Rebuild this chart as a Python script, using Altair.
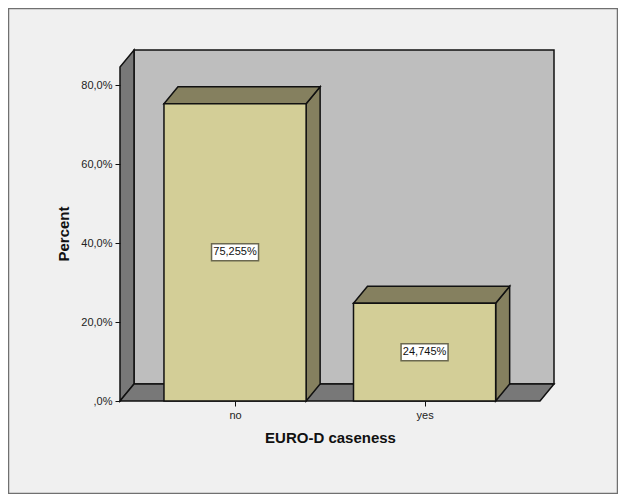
import altair as alt
import pandas as pd

categories = ["no", "yes"]
positions = [0, 1]
percents = [75.255, 24.745]
labels = ["75,255%", "24,745%"]
y_ticks = [0, 20, 40, 60, 80]

BAR_HALF = 0.375
DX = 0.0739
DY = 4.3
X_MIN, X_MAX = -0.607, 1.609
WALL_TOP = 84.56

FONT = "Liberation Sans"
FRONT, SHADE = "#D3CE97", "#85805F"
WALL, SIDE = "#BEBEBE", "#787878"
BG = "#F0F0F0"

bars = pd.DataFrame({"cat": categories, "pos": positions, "pct": percents, "label": labels})
bars["x0"] = bars.pos - BAR_HALF
bars["x1"] = bars.pos + BAR_HALF
bars["mid"] = bars.pct / 2
bars["zero"] = 0

side_rows, top_rows = [], []
for c, p, v in zip(categories, positions, percents):
    a, b = p - BAR_HALF, p + BAR_HALF
    side_rows += [{"cat": c, "x": b, "y": 0, "y2": v},
                  {"cat": c, "x": b + DX, "y": DY, "y2": v + DY}]
    top_rows += [{"cat": c, "x": a, "y": v, "y2": v},
                 {"cat": c, "x": a + DX, "y": v, "y2": v + DY},
                 {"cat": c, "x": b, "y": v, "y2": v + DY},
                 {"cat": c, "x": b + DX, "y": v + DY, "y2": v + DY}]
sides = pd.DataFrame(side_rows)
tops = pd.DataFrame(top_rows)

floor = pd.DataFrame([
    {"x": X_MIN, "y": 0, "y2": 0},
    {"x": X_MIN + DX, "y": 0, "y2": DY},
    {"x": X_MAX, "y": 0, "y2": DY},
    {"x": X_MAX + DX, "y": DY, "y2": DY},
])
left_wall = pd.DataFrame([
    {"x": X_MIN, "y": 0, "y2": WALL_TOP},
    {"x": X_MIN + DX, "y": DY, "y2": WALL_TOP + DY},
])
back_wall = pd.DataFrame([{"x": X_MIN + DX, "x2": X_MAX + DX, "y": DY, "y2": WALL_TOP + DY}])

x_scale = alt.Scale(domain=[X_MIN, X_MAX], nice=False, zero=False)
y_scale = alt.Scale(domain=[0, 80], nice=False)
X = lambda f: alt.X(f, type="quantitative", scale=x_scale)
Y = lambda f: alt.Y(f, type="quantitative", scale=y_scale)

W, H = 420, 316
PAD = dict(left=112, top=77, right=610 - 112 - W, bottom=486 - 77 - H)

frame = alt.Chart(pd.DataFrame({"a": [0]})).mark_rect(
    fill=BG, stroke="#707070", strokeWidth=1.5
).encode(
    x=alt.value(-PAD["left"] + 0.5), x2=alt.value(W + PAD["right"] - 0.5),
    y=alt.value(-PAD["top"] + 0.5), y2=alt.value(H + PAD["bottom"] - 0.5),
)

axes = alt.Chart(bars).mark_rule(opacity=0).encode(
    x=alt.X("pos:Q", scale=x_scale, axis=alt.Axis(
        values=positions, labelExpr="datum.value == 0 ? 'no' : 'yes'", zindex=1,
        title="EURO-D caseness", titleFont=FONT, titleFontSize=15, titleFontWeight="bold",
        titleColor="#111", titlePadding=10, labelFont=FONT, labelFontSize=11, labelColor="#222",
        labelPadding=3, tickSize=5, tickColor="#111", domain=False, grid=False)),
    y=alt.Y("zero:Q", scale=y_scale, axis=alt.Axis(
        values=y_ticks, labelExpr="datum.value == 0 ? ',0%' : datum.value + ',0%'", zindex=1,
        title="Percent", titleFont=FONT, titleFontSize=15, titleFontWeight="bold",
        titleColor="#111", titlePadding=9, titleY=148.5, labelFont=FONT, labelFontSize=11, labelColor="#222",
        labelPadding=3, tickSize=5, tickColor="#111", domain=False, grid=False)),
)

edge = dict(stroke="#111", strokeWidth=1.5)
back = alt.Chart(back_wall).mark_rect(fill=WALL, **edge).encode(
    x=X("x"), x2="x2", y=Y("y"), y2="y2")
left = alt.Chart(left_wall).mark_area(fill=SIDE, clip=False, **edge).encode(
    x=X("x"), y=Y("y"), y2="y2")
flr = alt.Chart(floor).mark_area(fill=SIDE, **edge).encode(
    x=X("x"), y=Y("y"), y2="y2")
side = alt.Chart(sides).mark_area(fill=SHADE, **edge).encode(
    x=X("x"), y=Y("y"), y2="y2", detail="cat:N")
top = alt.Chart(tops).mark_area(fill=SHADE, **edge).encode(
    x=X("x"), y=Y("y"), y2="y2", detail="cat:N")
front = alt.Chart(bars).mark_rect(fill=FRONT, **edge).encode(
    x=X("x0"), x2="x1", y=Y("zero"), y2="pct")
box = alt.Chart(bars).mark_rect(fill="#FFFFFF", stroke="#6B6850", strokeWidth=1.5, width=47, height=17).encode(
    x=X("pos"), y=Y("mid"))
text = alt.Chart(bars).mark_text(font=FONT, fontSize=11, color="#111", baseline="middle", align="center").encode(
    x=X("pos"), y=Y("mid"), text="label:N")

chart = alt.layer(frame, axes, back, left, flr, side, top, front, box, text).properties(
    width=W, height=H,
    padding=PAD,
    autosize=alt.AutoSizeParams(type="none"),
    background="#FFFFFF",
).configure_view(stroke=None)

chart.save("out.html", embed_options={"renderer": "svg", "actions": False})
